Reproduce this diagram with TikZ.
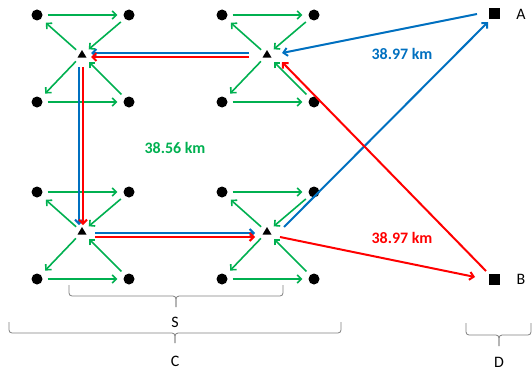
\documentclass[tikz,border=0pt]{standalone}
\usepackage{fontspec}
\setmainfont{Carlito}
\usetikzlibrary{arrows.meta,shapes.geometric}

\begin{document}
\begin{tikzpicture}[x=1bp, y=1bp,
    dot/.style={circle, fill=black, inner sep=0pt, minimum size=11bp},
    hub/.style={isosceles triangle, isosceles triangle stretches, rotate=90,
        minimum width=9bp, minimum height=7.5bp, inner sep=0pt, fill=black},
    site/.style={rectangle, fill=black, inner sep=0pt, minimum size=11bp},
    link/.style={-{Straight Barb[length=4bp,width=8bp]}, line width=1.6bp, greenLink,
        shorten <=5bp, shorten >=6bp},
    route/.style={-{Straight Barb[length=4bp,width=8bp]}, line width=2bp},
    bracket/.style={gray, line width=0.8bp, rounded corners=3bp},
    dist/.style={font=\fontsize{16}{19}\selectfont\bfseries},
    tag/.style={font=\fontsize{16}{19}\selectfont}]
    % --- COULEURS ---
    \definecolor{greenLink}{RGB}{0, 176, 80}
    \definecolor{blueRoute}{RGB}{0, 112, 192}
    \definecolor{redRoute}{RGB}{255, 0, 0}

    \useasboundingbox (0,0) rectangle (532,370);

    % --- CLUSTERS (hub + 4 noeuds) ---
    \foreach \n/\cx/\cy in {1/82/315, 2/267/315, 3/82/138, 4/267/138} {
        \node[hub] (t\n) at (\cx,\cy) {};
        \node[dot] (tl\n) at (\cx-45,\cy+40) {};
        \node[dot] (tr\n) at (\cx+47,\cy+40) {};
        \node[dot] (bl\n) at (\cx-45,\cy-47) {};
        \node[dot] (br\n) at (\cx+47,\cy-47) {};
        \draw[link] (tl\n) -- (tr\n);
        \draw[link] (tr\n) -- (t\n);
        \draw[link] (t\n) -- (tl\n);
        \draw[link] (t\n) -- (bl\n);
        \draw[link] (bl\n) -- (br\n);
        \draw[link] (br\n) -- (t\n);
    }

    % Sites A et B
    \node[site] (A) at (494,356) {};
    \node[site] (B) at (494,91) {};
    \node[tag] (lA) at (521,356) {A};
    \node[tag] (lB) at (521,91) {B};

    % --- ROUTE BLEUE : A -> t2 -> t1 -> t3 -> t4 -> A ---
    \draw[route, blueRoute] ([xshift=-17bp]A.center) -- ([xshift=15bp,yshift=2bp]t2.center);
    \draw[route, blueRoute, shorten <=18bp, shorten >=9bp] ([yshift=2bp]t2.center) -- ([yshift=2bp]t1.center);
    \draw[route, blueRoute, shorten <=12bp, shorten >=7bp] ([xshift=-3bp]t1.center) -- ([xshift=-3bp]t3.center);
    \draw[route, blueRoute, shorten <=13bp, shorten >=12bp] ([yshift=-1bp]t3.center) -- ([yshift=-1bp]t4.center);
    \draw[route, blueRoute] ([xshift=17bp,yshift=5bp]t4.center) -- ([xshift=-6bp,yshift=-8bp]A.center);

    % --- ROUTE ROUGE : B -> t2 -> t1 -> t3 -> t4 -> B ---
    \draw[route, redRoute] ([xshift=-8bp,yshift=8bp]B.center) -- ([xshift=15bp,yshift=-7bp]t2.center);
    \draw[route, redRoute, shorten <=18bp, shorten >=9bp] ([yshift=-2bp]t2.center) -- ([yshift=-2bp]t1.center);
    \draw[route, redRoute, shorten <=12bp, shorten >=7bp] ([xshift=1bp]t1.center) -- ([xshift=1bp]t3.center);
    \draw[route, redRoute, shorten <=13bp, shorten >=12bp] ([yshift=-5bp]t3.center) -- ([yshift=-5bp]t4.center);
    \draw[route, redRoute] ([xshift=13bp,yshift=-5bp]t4.center) -- ([xshift=-19bp,yshift=2bp]B.center);

    % Distances
    \node[dist, blueRoute] (dA) at (402,316) {38.97 km};
    \node[dist, greenLink] (dC) at (175,222) {38.56 km};
    \node[dist, redRoute] (dB) at (402,132) {38.97 km};

    % --- ACCOLADES ---
    \draw[bracket] (69,85) |- (176,74) -- (176,63);
    \draw[bracket] (283,85) |- (176,74) -- (176,63);
    \node[tag] (S) at (175,48) {S};

    \draw[bracket] (9,48) |- (175,37) -- (175,27);
    \draw[bracket] (341,48) |- (175,37) -- (175,27);
    \node[tag] (C) at (175,9) {C};

    \draw[bracket] (466,47) |- (499,35) -- (499,24);
    \draw[bracket] (531,47) |- (499,35) -- (499,24);
    \node[tag] (D) at (499,8) {D};

\end{tikzpicture}
\end{document}
